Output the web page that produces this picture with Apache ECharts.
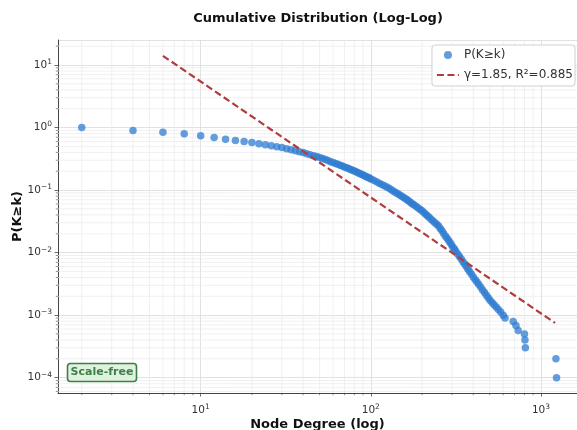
<!DOCTYPE html>
<html>
<head>
<meta charset="UTF-8" />
<title>Cumulative Distribution</title>
<style>
* { margin: 0; padding: 0; }
html, body { width: 577px; height: 430px; background: #fff; }
#chart { width: 577px; height: 430px; }
</style>
</head>
<body>
<div id="chart"></div>
<script src="https://cdn.jsdelivr.net/npm/echarts@6/dist/echarts.min.js"></script>
<script>
// node degree k and P(K>=k)
let degrees = [2,4,6,8,10,12,14,16,18,20,22,24,26,28,30,32,34,36,38,40,42,44,46,48,50,
  52,54,56,58,60,62,64,66,68,70,72,74,76,78,80,82,84,86,88,90,92,94,96,98,100,
  104,108,112,116,120,124,128,132,136,140,144,148,152,156,160,164,168,172,176,180,
  185,190,195,200,205,210,215,220,226,232,238,244,250,256,262,268,274,280,286,292,298,304,310,316,
  324,332,340,348,356,364,372,380,390,400,410,420,430,442,454,466,478,490,502,
  516,530,546,562,580,600,615,687,713,735,800,805,810,1225,1235]
let probs = [1.0,0.895,0.843,0.794,0.736,0.692,0.652,0.619,0.600,0.575,0.552,0.531,0.513,0.495,0.479,
  0.459,0.442,0.425,0.410,0.398,0.382,0.368,0.355,0.343,0.331,0.319,0.307,0.296,0.285,0.275,
  0.266,0.258,0.249,0.242,0.234,0.228,0.221,0.214,0.208,0.202,0.196,0.190,0.184,0.179,0.174,
  0.169,0.164,0.160,0.156,0.151,
  0.143,0.136,0.129,0.123,0.117,0.112,0.107,0.101,0.0960,0.0916,0.0873,0.0834,0.0796,0.0762,0.0728,
  0.0692,0.0661,0.0628,0.0600,0.0575,
  0.0545,0.0515,0.0490,0.0465,0.0437,0.0412,0.0389,0.0367,
  0.0343,0.0321,0.0300,0.0283,0.0266,0.0244,0.0223,0.0203,0.0185,0.0171,0.0157,0.0145,0.0133,0.0122,0.0114,0.0105,
  0.00946,0.00863,0.00787,0.00711,0.00655,0.00597,0.00545,0.00501,
  0.00453,0.00409,0.00372,0.00341,0.00313,
  0.00281,0.00253,0.00230,0.00209,0.00190,0.00173,
  0.00159,0.00147,0.00135,0.00123,0.00112,0.00100,
  0.00090,0.00079,0.00068,0.00057,0.00050,0.00040,0.00030,0.00020,0.00010]

// power-law fit line ends
let fitX = [6, 1210]
let fitY = [14.0, 0.00075]

// minor grid positions (2..9 x 10^n)
let xMinor = [2,3,4,5,6,7,8,9,20,30,40,50,60,70,80,90,200,300,400,500,600,700,800,900]
let yMinor = [6e-5,7e-5,8e-5,9e-5,2e-4,3e-4,4e-4,5e-4,6e-4,7e-4,8e-4,9e-4,
  2e-3,3e-3,4e-3,5e-3,6e-3,7e-3,8e-3,9e-3,0.02,0.03,0.04,0.05,0.06,0.07,0.08,0.09,
  0.2,0.3,0.4,0.5,0.6,0.7,0.8,0.9,2,3,4,5,6,7,8,9,20]

let font = 'DejaVu Sans'

function powLabel(v) {
  let e = Math.log10(v)
  let r = Math.round(e)
  if (Math.abs(e - r) > 1e-6) return ''
  return '{b|10}{s|' + String(r).replace('-', '−') + '}'
}
let labelRich = {
  b: { fontSize: 10.5, fontFamily: font, color: '#333' },
  s: { fontSize: 7.5, fontFamily: font, color: '#333', verticalAlign: 'bottom', padding: [0, 0, 6, 0] }
}

function minorXItem(params, api) {
  let p = api.coord([api.value(0), 1])
  let cs = params.coordSys
  let bottom = cs.y + cs.height
  return { type: 'group', children: [
    { type: 'line', shape: { x1: p[0], y1: cs.y, x2: p[0], y2: bottom }, style: { stroke: '#eaeaea', lineWidth: 0.7 } },
    { type: 'line', shape: { x1: p[0], y1: bottom, x2: p[0], y2: bottom + 2.2 }, style: { stroke: '#444', lineWidth: 0.6 } }
  ]}
}
function minorYItem(params, api) {
  let p = api.coord([10, api.value(1)])
  let cs = params.coordSys
  return { type: 'group', children: [
    { type: 'line', shape: { x1: cs.x, y1: p[1], x2: cs.x + cs.width, y2: p[1] }, style: { stroke: '#eaeaea', lineWidth: 0.7 } },
    { type: 'line', shape: { x1: cs.x - 2.2, y1: p[1], x2: cs.x, y2: p[1] }, style: { stroke: '#444', lineWidth: 0.6 } }
  ]}
}

let chart = echarts.init(document.getElementById('chart'))

let option = {
  backgroundColor: '#fff',
  animation: false,
  textStyle: { fontFamily: font },
  grid: { left: 58, right: 0, top: 40, bottom: 37, containLabel: false, outerBoundsMode: 'none' },
  graphic: [
    { type: 'text', x: 318, y: 19, style: { text: 'Cumulative Distribution (Log-Log)', font: 'bold 13px DejaVu Sans', fill: '#111', align: 'center', verticalAlign: 'middle' } },
    { type: 'rect', x: 67.5, y: 363.5, shape: { width: 69, height: 18, r: 3 }, style: { fill: '#dff2df', stroke: '#3f7f45', lineWidth: 1.6 }, z: 100 },
    { type: 'text', x: 102, y: 372.5, style: { text: 'Scale-free', font: 'bold 11px DejaVu Sans', fill: '#3f7f45', align: 'center', verticalAlign: 'middle' }, z: 101 }
  ],
  legend: {
    orient: 'vertical',
    right: 2,
    top: 45,
    backgroundColor: '#fff',
    borderColor: '#d0d0d0',
    borderWidth: 1,
    borderRadius: 3,
    padding: [4, 2, 5, 4],
    itemGap: 8,
    itemWidth: 22,
    itemHeight: 8,
    textStyle: { fontSize: 12, fontFamily: font, color: '#333' },
    data: [
      { name: 'P(K≥k)', icon: 'circle' },
      { name: 'γ=1.85, R²=0.885', itemStyle: { opacity: 0 } }
    ]
  },
  xAxis: {
    type: 'log',
    logBase: 10,
    min: 1.45,
    max: 1629,
    name: 'Node Degree (log)',
    nameLocation: 'middle',
    nameGap: 25,
    nameMoveOverlap: false,
    nameTextStyle: { fontSize: 13, fontWeight: 'bold', fontFamily: font, color: '#111' },
    axisLine: { show: true, lineStyle: { color: '#444', width: 1 } },
    axisTick: { show: true, length: 3.5, lineStyle: { color: '#444', width: 0.8 } },
    axisLabel: { formatter: powLabel, rich: labelRich, margin: 10, showMinLabel: false, showMaxLabel: false },
    splitLine: { show: true, lineStyle: { color: '#d9d9d9', width: 0.8 } }
  },
  yAxis: {
    type: 'log',
    logBase: 10,
    min: 5.69e-5,
    max: 25.1,
    name: 'P(K≥k)',
    nameLocation: 'middle',
    nameGap: 34,
    nameMoveOverlap: false,
    nameTextStyle: { fontSize: 13, fontWeight: 'bold', fontFamily: font, color: '#111' },
    axisLine: { show: true, lineStyle: { color: '#444', width: 1 } },
    axisTick: { show: true, length: 3.5, lineStyle: { color: '#444', width: 0.8 } },
    axisLabel: { formatter: powLabel, rich: labelRich, margin: 6, showMinLabel: false, showMaxLabel: false },
    splitLine: { show: true, lineStyle: { color: '#d9d9d9', width: 0.8 } }
  },
  series: [
    {
      type: 'custom',
      silent: true,
      z: 1,
      renderItem: minorXItem,
      data: xMinor.map(v => [v, 1])
    },
    {
      type: 'custom',
      silent: true,
      z: 1,
      renderItem: minorYItem,
      data: yMinor.map(v => [10, v])
    },
    {
      name: 'P(K≥k)',
      type: 'scatter',
      symbol: 'circle',
      symbolSize: 7.5,
      z: 3,
      itemStyle: { color: '#2f7cd0', opacity: 0.75 },
      data: degrees.map((d, i) => [d, probs[i]])
    },
    {
      name: 'γ=1.85, R²=0.885',
      type: 'line',
      symbol: 'none',
      z: 4,
      lineStyle: { color: '#b03c3c', width: 2.2, type: [7, 3.5] },
      itemStyle: { color: '#b03c3c' },
      data: fitX.map((x, i) => [x, fitY[i]])
    }
  ]
}
chart.setOption(option)
</script>
</body>
</html>
